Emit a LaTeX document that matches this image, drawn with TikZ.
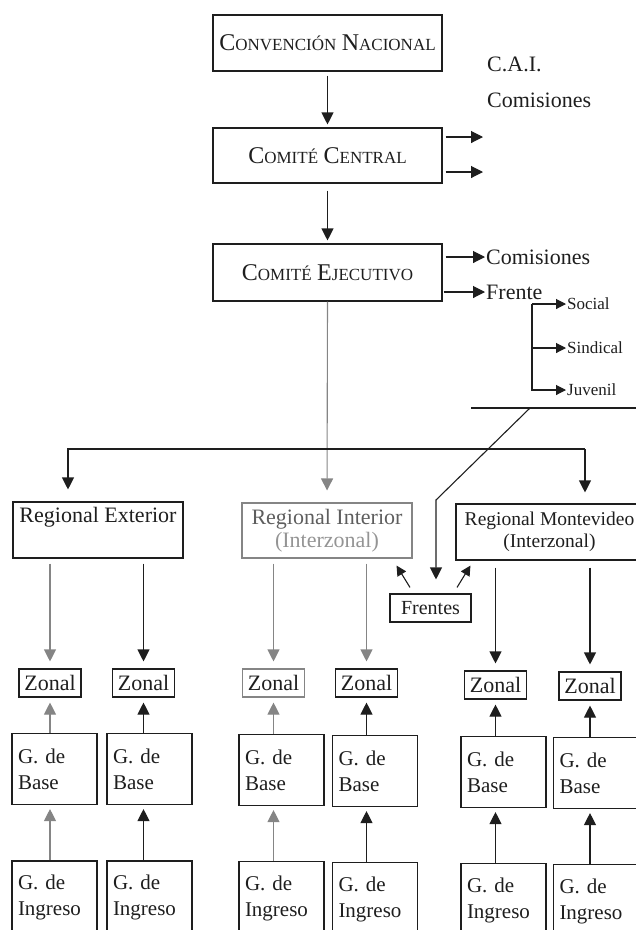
\documentclass[tikz,border=0pt]{standalone}
\usepackage{fontspec}
\setmainfont{Liberation Serif}
\usetikzlibrary{arrows.meta,calc}
\definecolor{ink}{HTML}{1E1E1E}
\definecolor{pale}{HTML}{858585}
\definecolor{paletext}{HTML}{5E5E5E}
\definecolor{paler}{HTML}{949494}
\newcommand\capbig[1]{{\fontsize{24}{26}\selectfont #1}}
\newcommand\capsmall[1]{{\fontsize{17}{20}\selectfont #1}}
\begin{document}
\begin{tikzpicture}[x=1pt,y=-1pt,
  every node/.style={font=\fontsize{22}{24}\selectfont, text=ink},
  box/.style={draw=ink, line width=1.1pt, inner sep=0pt},
  pbox/.style={draw=pale, line width=1.1pt, inner sep=0pt},
  gbox/.style={box, minimum width=85pt, text width=73pt, align=left, font=\fontsize{21}{26}\selectfont},
  zbox/.style={box, minimum width=62pt, minimum height=28pt},
  lbl/.style={anchor=west, inner sep=0pt},
  slbl/.style={anchor=west, inner sep=0pt, font=\fontsize{17}{20}\selectfont},
  ln/.style={draw=ink, line width=1.1pt},
  arr/.style={draw=ink, line width=1.1pt, -{Triangle[width=12pt,length=12pt]}},
  parr/.style={draw=pale, line width=1.1pt, -{Triangle[width=12pt,length=12pt]}},
  sarr/.style={draw=ink, line width=1.1pt, -{Triangle[width=10pt,length=10pt]}}]
\useasboundingbox (0,0) rectangle (636,930);
\clip (0,0) rectangle (636,930);

% top chain
\node[box, minimum width=229pt, minimum height=56pt] (CN) at (327.5,43)
  {\capbig{C}\capsmall{ONVENCIÓN} \capbig{N}\capsmall{ACIONAL}};
\node[box, minimum width=229pt, minimum height=55pt] (CC) at (327.5,155.5)
  {\capbig{C}\capsmall{OMITÉ} \capbig{C}\capsmall{ENTRAL}};
\node[box, minimum width=229pt, minimum height=57pt] (CE) at (327.5,272.5)
  {\capbig{C}\capsmall{OMITÉ} \capbig{E}\capsmall{JECUTIVO}};
\draw[arr, shorten <=4pt, shorten >=3pt] (CN.south) -- (CC.north);
\draw[arr, shorten <=7pt, shorten >=3pt] (CC.south) -- (CE.north);

% C.A.I. / Comisiones
\node[lbl] (cai) at (487,64) {C.A.I.};
\node[lbl] (com1) at (487,100) {Comisiones};
\coordinate (c1) at (483,137);
\coordinate (c2) at (483,172);
\draw[arr, shorten <=3pt] (CC.east |- c1) -- (c1);
\draw[arr, shorten <=3pt] (CC.east |- c2) -- (c2);

% Comisiones / Frente
\node[lbl] (com2) at (486,257) {Comisiones};
\node[lbl] (fre) at (486,292) {Frente};
\draw[arr, shorten <=3pt, shorten >=1pt] (CE.east |- com2.west) -- (com2.west);
\draw[arr, shorten <=1pt, shorten >=1pt] (CE.east |- fre.west) -- (fre.west);

% bracket
\node[slbl] (soc) at (567,304) {Social};
\node[slbl] (sin) at (567,348) {Sindical};
\node[slbl] (juv) at (567,390) {Juvenil};
\coordinate (bx) at (532,0);
\draw[sarr, shorten >=1pt] (bx |- soc.west) -- (soc.west);
\draw[sarr, shorten >=1pt] (bx |- sin.west) -- (sin.west);
\draw[sarr, shorten >=1pt] (bx |- soc.west) |- (juv.west);

% regionals
\node[box, minimum width=170pt, minimum height=56pt, align=center] (RE) at (98,530)
  {Regional Exterior\\[0pt]\strut};
\node[pbox, minimum width=170pt, minimum height=55pt, align=center, text=paletext,
  font=\fontsize{22}{23}\selectfont] (RI) at (327,530.5)
  {Regional Interior\\\textcolor{paler}{(Interzonal)}};
\node[box, minimum width=187pt, minimum height=56pt, align=center,
  font=\fontsize{19.5}{22}\selectfont] (RM) at (549.5,532)
  {Regional Montevideo\\(Interzonal)};
\node[box, minimum width=81pt, minimum height=28pt, font=\fontsize{20}{22}\selectfont] (fr) at (430.5,608) {Frentes};

% distribution lines
\draw[parr, shorten >=12pt] (CE.south) -- (RI.north);
\coordinate (hl) at (68,449);
\coordinate (hr) at (585,449);
\draw[arr, shorten >=12pt] (hr) -- (hl) -- (hl |- RE.north);
\draw[arr, shorten >=11pt] (hr) -- (hr |- RM.north);

% juvenil line and diagonal to Frentes
\coordinate (jl) at (471,408);
\coordinate (jr) at (640,408);
\draw[ln] (jl) -- (jr);
\coordinate (dj) at (530,408);
\coordinate (dk) at (436,500);
\draw[arr, shorten >=14pt] (dj) -- (dk) -- (dk |- fr.north);

% Frentes arrows
\draw[sarr] ([shift={(-20.5,-6)}]fr.north) -- ([shift={(-16,7)}]RI.south east);
\draw[sarr] ([shift={(26.5,-6)}]fr.north) -- ([shift={(15,5)}]RM.south west);

% zonal boxes
\node[zbox] (Z1) at (50,683) {Zonal};
\node[zbox] (Z2) at (143.5,683) {Zonal};
\node[zbox, draw=pale] (Z3) at (273.5,683) {Zonal};
\node[zbox] (Z4) at (366.5,683) {Zonal};
\node[zbox] (Z5) at (495.5,685) {Zonal};
\node[zbox] (Z6) at (590,686) {Zonal};

% base boxes
\node[gbox, minimum height=71pt] (B1) at (54.5,769) {G. de\\Base};
\node[gbox, minimum height=71pt] (B2) at (149.5,769) {G. de\\Base};
\node[gbox, minimum height=71pt] (B3) at (281.5,770) {G. de\\Base};
\node[gbox, minimum height=71pt] (B4) at (375,771) {G. de\\Base};
\node[gbox, minimum height=71pt] (B5) at (503.5,772) {G. de\\Base};
\node[gbox, minimum height=71pt] (B6) at (596,773) {G. de\\Base};

% ingreso boxes
\node[gbox, minimum height=73pt] (I1) at (54.5,897.5) {G. de\\Ingreso};
\node[gbox, minimum height=73pt] (I2) at (149.5,897.5) {G. de\\Ingreso};
\node[gbox, minimum height=73pt] (I3) at (281.5,898) {G. de\\Ingreso};
\node[gbox, minimum height=73pt] (I4) at (375,899) {G. de\\Ingreso};
\node[gbox, minimum height=73pt] (I5) at (503.5,900) {G. de\\Ingreso};
\node[gbox, minimum height=73pt] (I6) at (596,901) {G. de\\Ingreso};

% regional -> zonal
\draw[parr, shorten <=5pt, shorten >=7pt] (Z1.north |- RE.south) -- (Z1.north);
\draw[arr, shorten <=5pt, shorten >=7pt] (Z2.north |- RE.south) -- (Z2.north);
\draw[parr, shorten <=5pt, shorten >=7pt] (Z3.north |- RI.south) -- (Z3.north);
\draw[parr, shorten <=5pt, shorten >=7pt] (Z4.north |- RI.south) -- (Z4.north);
\draw[arr, shorten <=7pt, shorten >=7pt] (Z5.north |- RM.south) -- (Z5.north);
\draw[arr, shorten <=7pt, shorten >=7pt] (Z6.north |- RM.south) -- (Z6.north);

% base -> zonal
\draw[parr, shorten >=5pt] (Z1.south |- B1.north) -- (Z1.south);
\draw[arr, shorten >=5pt] (Z2.south |- B2.north) -- (Z2.south);
\draw[parr, shorten >=5pt] (Z3.south |- B3.north) -- (Z3.south);
\draw[arr, shorten >=5pt] (Z4.south |- B4.north) -- (Z4.south);
\draw[arr, shorten >=5pt] (Z5.south |- B5.north) -- (Z5.south);
\draw[arr, shorten >=5pt] (Z6.south |- B6.north) -- (Z6.south);

% ingreso -> base
\draw[parr, shorten >=4pt] (Z1.south |- I1.north) -- (Z1.south |- B1.south);
\draw[arr, shorten >=4pt] (Z2.south |- I2.north) -- (Z2.south |- B2.south);
\draw[parr, shorten >=4pt] (Z3.south |- I3.north) -- (Z3.south |- B3.south);
\draw[arr, shorten >=4pt] (Z4.south |- I4.north) -- (Z4.south |- B4.south);
\draw[arr, shorten >=4pt] (Z5.south |- I5.north) -- (Z5.south |- B5.south);
\draw[arr, shorten >=4pt] (Z6.south |- I6.north) -- (Z6.south |- B6.south);
\end{tikzpicture}
\end{document}
